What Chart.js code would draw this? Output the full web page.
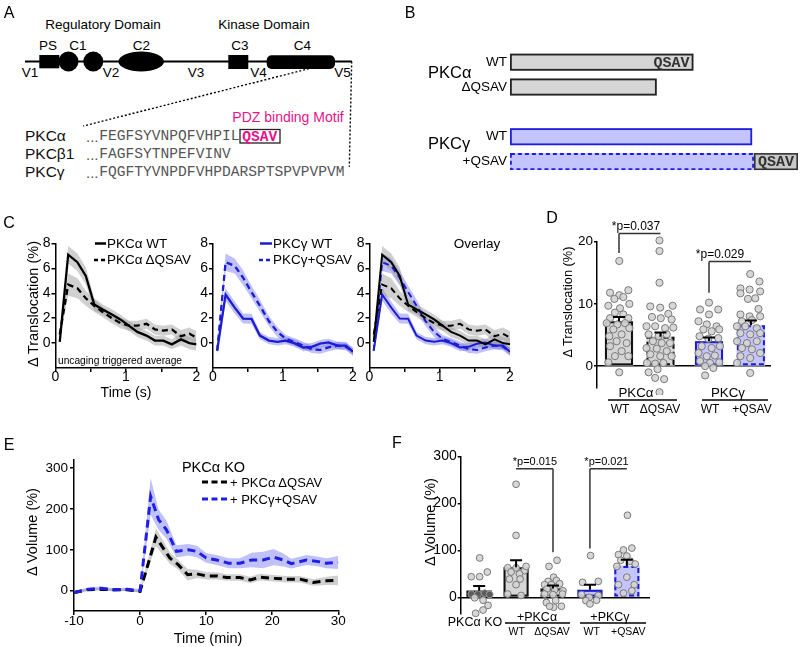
<!DOCTYPE html>
<html><head><meta charset="utf-8">
<script src="https://cdn.jsdelivr.net/npm/chart.js@4.4.0/dist/chart.umd.min.js"></script>
<style>
html,body{margin:0;padding:0;background:#fff;}
#fig{position:relative;width:800px;height:647px;overflow:hidden;font-family:"Liberation Sans",Arial,sans-serif;color:#000;}
canvas{position:absolute;}
.t{position:absolute;white-space:nowrap;line-height:1;}
#ov{position:absolute;left:0;top:0;pointer-events:none;}
</style></head><body><div id="fig">
<svg id="panelA" width="400" height="200" style="position:absolute;left:0;top:0" font-family="Liberation Sans, Arial, sans-serif">
  <g text-anchor="middle" dominant-baseline="central" font-size="13.5">
    <text x="103" y="24">Regulatory Domain</text>
    <text x="264" y="24">Kinase Domain</text>
    <text x="48" y="45">PS</text><text x="78" y="45">C1</text><text x="141.5" y="45">C2</text>
    <text x="240" y="45">C3</text><text x="302.5" y="45">C4</text>
    <text x="30" y="72">V1</text><text x="111" y="72">V2</text><text x="196" y="72">V3</text>
    <text x="258.5" y="72">V4</text><text x="342.5" y="72">V5</text>
  </g>
  <line x1="25" y1="61.5" x2="352" y2="61.5" stroke="#000" stroke-width="1.8"/>
  <rect x="39.3" y="55" width="20" height="13.3" fill="#000"/>
  <circle cx="68.5" cy="61.5" r="10" fill="#000"/>
  <circle cx="93.3" cy="61.5" r="10" fill="#000"/>
  <ellipse cx="141.2" cy="61.5" rx="22.8" ry="10" fill="#000"/>
  <rect x="228.3" y="55" width="20" height="14" fill="#000"/>
  <rect x="266.7" y="55.3" width="68.3" height="13.7" rx="5" fill="#000"/>
  <line x1="316.7" y1="66.7" x2="83.3" y2="126" stroke="#000" stroke-width="1.4" stroke-dasharray="2,2"/>
  <line x1="351.7" y1="61.5" x2="349.3" y2="166.7" stroke="#000" stroke-width="1.4" stroke-dasharray="2,2"/>
  <text x="288" y="117" text-anchor="middle" dominant-baseline="central" font-size="14" fill="#e8138c">PDZ binding Motif</text>
  <g font-size="15.5" font-weight="normal" fill="#111" dominant-baseline="central">
    <text x="25" y="135">PKCα</text><text x="25" y="153">PKCβ1</text><text x="25" y="171">PKCγ</text>
  </g>
  <g dominant-baseline="central" fill="#555">
    <text x="86" y="136" font-size="15">...</text>
    <text x="86" y="154" font-size="15">...</text>
    <text x="86" y="172" font-size="15">...</text>
    <text x="99.3" y="136" font-size="14.6" font-family="Liberation Mono, Courier New, monospace">FEGFSYVNPQFVHPIL</text>
    <text x="99.3" y="154" font-size="14.6" font-family="Liberation Mono, Courier New, monospace">FAGFSYTNPEFVINV</text>
    <text x="99.3" y="172" font-size="14.6" font-family="Liberation Mono, Courier New, monospace">FQGFTYVNPDFVHPDARSPTSPVPVPVM</text>
  </g>
  <rect x="240" y="129.5" width="40" height="13.5" fill="none" stroke="#222" stroke-width="1.3"/>
  <text x="242.3" y="136.5" dominant-baseline="central" font-size="14.6" font-weight="bold" fill="#e8138c" font-family="Liberation Mono, Courier New, monospace">QSAV</text>
</svg>
</div>
<script>
// ---------------- DATA ----------------
// Panel B (schematic lengths, arbitrary units)
const bRows = ['WT', 'ΔQSAV', '', 'WT', '+QSAV'];
const bProtein = [[0, 100], [0, 80], null, [0, 132], [0, 133]];
const bTag = [null, null, null, null, [133, 157]];

// Panel C (time in s, Δ translocation %)
const cTime = [0.06, 0.18, 0.31, 0.43, 0.55, 0.67, 0.80, 0.92, 1.04, 1.16, 1.29, 1.41, 1.53, 1.65, 1.78, 1.90, 2.00];
const cAlphaWT = [0.1, 7.1, 6.5, 5.4, 3.1, 2.7, 2.3, 1.9, 1.4, 0.9, 0.6, 0.2, 0.2, -0.1, 0.3, 0.0, -0.1];
const cAlphaWTsem = [0.3, 0.7, 0.7, 0.7, 0.5, 0.4, 0.4, 0.4, 0.4, 0.4, 0.4, 0.4, 0.4, 0.4, 0.5, 0.5, 0.5];
const cAlphaDQ = [0.7, 4.7, 4.4, 3.6, 3.0, 2.5, 2.0, 1.6, 1.4, 1.4, 1.55, 1.1, 1.0, 1.1, 0.55, 0.75, 0.45];
const cAlphaDQsem = [0.3, 0.9, 0.8, 0.6, 0.5, 0.4, 0.4, 0.4, 0.4, 0.4, 0.4, 0.4, 0.4, 0.4, 0.5, 0.5, 0.5];
const cGammaWT = [-0.6, 3.9, 2.85, 1.97, 1.95, 0.6, 0.2, 0.1, 0.2, 0.0, -0.35, -0.3, -0.05, 0.05, -0.2, -0.2, -0.7];
const cGammaWTsem = [0.3, 0.5, 0.5, 0.4, 0.4, 0.3, 0.3, 0.3, 0.3, 0.3, 0.3, 0.3, 0.3, 0.3, 0.3, 0.3, 0.3];
const cGammaQ = [-0.6, 6.5, 6.2, 5.25, 4.1, 3.0, 1.75, 0.9, 0.35, 0.1, -0.2, -0.5, -0.55, -0.35, -0.2, -0.3, -0.7];
const cGammaQsem = [0.3, 0.7, 0.6, 0.6, 0.5, 0.5, 0.4, 0.4, 0.3, 0.3, 0.3, 0.3, 0.3, 0.3, 0.3, 0.3, 0.3];
const cYTicks = [0, 2, 4, 6, 8];

// Panel D (Δ translocation %)
const dGroups = ['PKCα WT', 'PKCα ΔQSAV', 'PKCγ WT', 'PKCγ +QSAV'];
const dGroupX = [1, 2, 3.17, 4.18];
const dMean = [7.2, 4.7, 4.0, 6.55];
const dErrTop = [7.9, 5.4, 4.6, 7.35];
const dAlphaWTpts = [16.9, 11.8, 11.4, 12.2, 10.8, 11.1, 9.7, 9.3, 10.0, 8.6, 8.3, 7.7, 7.7, 6.9, 6.7, 6.9, 5.9, 6.1, 4.8, 5.1, 4.0, 3.7, 3.2, 2.4, 1.6, 1.6, 0.6, -1.0];
const dAlphaWTjit = [0.02, -0.64, 0.02, 0.67, -0.33, 0.31, -0.76, 0.07, 0.74, -0.29, 0.31, -0.64, 0.67, -0.88, -0.12, 0.43, -0.40, 0.74, -0.69, 0.19, -0.17, 0.55, -0.64, 0.19, -0.29, 0.67, -0.76, 0.02];
const dAlphaDQpts = [20.2, 18.5, 13.4, 9.6, 9.4, 9.7, 8.4, 7.9, 7.7, 7.5, 6.4, 6.4, 6.1, 6.2, 5.1, 4.8, 5.1, 4.0, 3.7, 3.7, 2.9, 2.8, 2.4, 1.9, 1.6, 1.6, 0.5, 0.4, 0.5, -0.5, -1.0, -1.9, -2.1, -4.2];
const dAlphaDQjit = [-0.07, -0.07, -0.07, -0.73, -0.02, 0.87, 0.56, -0.61, 0.02, 0.80, -1.0, -0.38, 0.33, 0.92, -0.85, -0.14, 0.45, -0.54, 0.09, 0.68, -1.0, -0.26, 0.45, -0.73, -0.02, 0.80, -0.96, -0.38, 0.21, -0.21, -0.85, -0.38, 0.26, -0.07];
const dGammaWTpts = [10.2, 9.1, 9.1, 8.3, 7.2, 6.7, 6.4, 5.9, 5.6, 5.9, 4.8, 4.4, 4.5, 3.2, 2.9, 3.2, 2.1, 1.6, 1.7, 0.8, 0.5, 0.6, 0.0, -0.3, -1.5];
const dGammaWTjit = [0, -0.64, 0.66, 0, -0.75, -0.16, 0.54, -0.40, 0.19, 0.73, -0.68, -0.05, 0.66, -0.52, 0.19, 0.78, -0.75, -0.16, 0.42, -0.64, 0.07, 0.73, -0.28, 0.31, -0.28];
const dGammaQpts = [14.8, 12.5, 12.3, 13.6, 11.7, 12.0, 10.8, 10.9, 9.2, 8.3, 8.0, 8.0, 7.2, 7.4, 6.4, 6.4, 6.1, 5.3, 5.1, 5.3, 4.0, 3.7, 4.0, 2.9, 2.7, 2.1, 1.6, 1.3, 0.5, -1.1];
const dGammaQjit = [-0.05, -0.75, -0.09, 0.61, -0.75, 0.66, -0.21, 0.31, 0.54, -0.75, -0.09, 0.66, -0.64, 0.07, -1.0, -0.40, 0.42, -0.75, -0.05, 0.66, -0.99, -0.28, 0.42, -0.64, 0.07, 0.66, -0.75, -0.05, -0.99, -0.05];
const dYTicks = [0, 10, 20];

// Panel E (time in min, Δ volume %)
const eAlphaDQt = [-10, -8, -6, -4, -2, 0, 2.4, 3.5, 4.5, 5.8, 7.2, 8.6, 10, 11.6, 13.1, 15.1, 16.7, 18.1, 20.2, 22.2, 24.2, 26.2, 28.2, 30];
const eAlphaDQ = [-5, 2, 3, 2, 2, -2, 131, 104, 80, 63, 39, 41, 36, 36, 32, 32, 26, 33, 30, 28, 28, 20, 24, 25];
const eAlphaDQsem = [4, 3, 3, 3, 3, 3, 22, 18, 14, 12, 14, 10, 9, 9, 8, 8, 8, 8, 8, 8, 8, 8, 10, 12];
const eGammaQt = [-10, -8, -6, -4, -2, 0, 1.6, 2.8, 4, 5.5, 7.3, 8.6, 10, 11.6, 13.4, 15.1, 16.9, 18.6, 20.2, 21.7, 22.9, 25.2, 27, 28.2, 30];
const eGammaQ = [-5, 3, 6, 2, 3, 0, 231, 174, 149, 96, 100, 96, 80, 75, 67, 67, 75, 75, 82, 75, 66, 75, 71, 67, 69];
const eGammaQsem = [4, 4, 4, 4, 4, 4, 45, 25, 22, 15, 14, 14, 12, 12, 12, 12, 18, 20, 20, 16, 12, 12, 12, 12, 16];
const eYTicks = [0, 100, 200, 300];

// Panel F (Δ volume %)
const fGroups = ['PKCα KO', '+PKCα WT', '+PKCα ΔQSAV', '+PKCγ WT', '+PKCγ +QSAV'];
const fGroupX = [1, 2, 3, 4, 5];
const fMean = [14, 64, 19, 16, 67];
const fErrTop = [24, 79, 25, 27, 80];
const fKOpts = [84, 44, 44, 54, 7, 7, 9, 6, -1, -6, -17, -27, -34];
const fKOjit = [0.04, -0.63, 0.04, 0.65, -0.63, -0.09, 0.44, 0.84, -0.36, 0.31, 0.71, 0.31, -0.28];
const fAlphaWTpts = [241, 132, 63, 63, 57, 66, 54, 50, 39, 39, 27, 7, 4];
const fAlphaWTjit = [0, 0, -0.67, 0, 0.67, 0.8, -0.4, 0.27, -0.53, 0.32, 0, -0.67, 0.4];
const fAlphaDQpts = [79, 66, 43, 34, 36, 27, 27, 29, 18, 16, 14, 7, 6, 7, -11, -7, -21, -19, -19];
const fAlphaDQjit = [0.32, -0.32, 0.05, -0.4, 0.27, -0.67, -0.13, 0.53, -0.48, 0.13, 0.8, -0.67, 0, 0.75, -0.53, 0.21, 0.05, 0.67, -0.27];
const fGammaWTpts = [89, 32, 34, 6, 0, 4, -7, -14, -6];
const fGammaWTjit = [0.05, -0.59, 0.67, -0.67, -0.05, 0.67, -0.32, 0, 0.53];
const fGammaQpts = [175, 101, 105, 91, 88, 79, 77, 71, 66, 43, 27, 27, 9, 14];
const fGammaQjit = [0.05, -0.27, 0.4, -0.67, 0, -0.48, 0.27, 0.67, -0.8, 0, -0.67, 0.59, -0.27, 0.4];
const fYTicks = [0, 100, 200, 300];

// ---------------- HELPERS ----------------
const FONT = '"Liberation Sans", Arial, Helvetica, sans-serif';
const MONO = '"Liberation Mono", "Courier New", monospace';
Chart.defaults.font.family = FONT;
const fig = document.getElementById('fig');
const BLACK = '#000';
const BLUE = '#1c1cd0';
const BLUE_E = '#1e1ee8';
const GRAYBAND = 'rgba(150,150,150,0.45)';
const BLUEBAND = 'rgba(100,100,240,0.40)';
const A_FILL = '#d6d6d6';
const G_FILL = '#c4c4ff';
const DOT_FILL = 'rgba(212,212,212,0.92)';
const DOT_EDGE = '#7a7a7a';
const DECOR = {};

const ovNS = 'http://www.w3.org/2000/svg';
const ov = document.createElementNS(ovNS, 'svg');
ov.setAttribute('id', 'ov'); ov.setAttribute('width', 800); ov.setAttribute('height', 647);

function T(text, x, y, size, o = {}) {
  const d = document.createElement('div');
  d.className = 't'; d.textContent = text;
  d.style.left = x + 'px'; d.style.top = y + 'px'; d.style.fontSize = size + 'px';
  if (o.color) d.style.color = o.color;
  const ax = o.anchor === 'left' ? '0' : (o.anchor === 'right' ? '-100%' : '-50%');
  d.style.transform = `translate(${ax},-50%)` + (o.rot ? ` rotate(${o.rot}deg)` : '');
  fig.appendChild(d);
}
function L(x1, y1, x2, y2, color, width, dash) {
  const l = document.createElementNS(ovNS, 'line');
  l.setAttribute('x1', x1); l.setAttribute('y1', y1); l.setAttribute('x2', x2); l.setAttribute('y2', y2);
  l.setAttribute('stroke', color); l.setAttribute('stroke-width', width);
  if (dash) l.setAttribute('stroke-dasharray', dash);
  ov.appendChild(l);
}

const AXB = { display: true, color: BLACK, width: 1.5 };
function GR(len) { return { display: true, drawOnChartArea: false, drawTicks: true, tickLength: len, color: BLACK, lineWidth: 1.5 }; }
function TK(size, pad, extra) { return Object.assign({ color: BLACK, font: { family: FONT, size: size, lineHeight: 1 }, padding: pad, autoSkip: false, maxRotation: 0 }, extra || {}); }
function fixed(arr) { return a => { a.ticks = arr.map(v => ({ value: v })); }; }

function makeChart(id, box, area, config, decorCfg) {
  const cv = document.createElement('canvas');
  cv.id = id; cv.width = box.w; cv.height = box.h;
  cv.style.left = box.x + 'px'; cv.style.top = box.y + 'px';
  cv.style.width = box.w + 'px'; cv.style.height = box.h + 'px';
  fig.appendChild(cv);
  if (decorCfg) { DECOR[id] = decorCfg; config.plugins = [decor]; }
  const o = config.options;
  o.responsive = false; o.animation = false; o.devicePixelRatio = 1; o.maintainAspectRatio = false;
  o.plugins = Object.assign({ legend: { display: false }, tooltip: { enabled: false } }, o.plugins || {});
  const xs = o.scales.x, ys = o.scales.y;
  const xBottom = xs.display !== false && typeof xs.position !== 'object';
  o.layout = { padding: { left: 0, top: area.t - box.y, right: box.x + box.w - area.r, bottom: xBottom ? 0 : box.y + box.h - area.b } };
  ys.afterFit = s => { s.width = area.l - box.x; };
  if (xBottom) xs.afterFit = s => { s.height = box.y + box.h - area.b; };
  return new Chart(cv, config);
}

// plugin: dashed bar borders, error bars, significance brackets, in-bar text
const decor = {
  id: 'decor',
  afterDatasetDraw(chart, args) {
    const o = DECOR[chart.canvas.id];
    if (!o) return;
    const ctx = chart.ctx;
    const st = o.borders && o.borders[args.index];
    if (st) {
      args.meta.data.forEach((el, i) => {
        const s = st[i]; if (!s) return;
        const p = el.getProps(['x', 'y', 'base', 'width', 'height', 'horizontal'], true);
        if (![p.x, p.y, p.base].every(Number.isFinite)) return;
        let l, r, t, b;
        if (p.horizontal) { l = Math.min(p.x, p.base); r = Math.max(p.x, p.base); t = p.y - p.height / 2; b = p.y + p.height / 2; }
        else { l = p.x - p.width / 2; r = p.x + p.width / 2; t = Math.min(p.y, p.base); b = Math.max(p.y, p.base); }
        if (r - l < 1 || b - t < 1) return;
        const w = s.width || 2, h = w / 2;
        ctx.save(); ctx.strokeStyle = s.color; ctx.lineWidth = w; ctx.setLineDash(s.dash || []);
        ctx.strokeRect(l + h, t + h, r - l - w, b - t - w);
        ctx.restore();
      });
    }
    if (o.barTexts) {
      o.barTexts.filter(bt => bt.ds === args.index).forEach(bt => {
        const el = args.meta.data[bt.i];
        const p = el.getProps(['x', 'y', 'base'], true);
        ctx.save(); ctx.fillStyle = '#333'; ctx.font = 'bold 15px ' + MONO; ctx.textBaseline = 'middle';
        if (bt.align === 'end') { ctx.textAlign = 'right'; ctx.fillText(bt.text, p.x - 4, p.y + 1); }
        else { ctx.textAlign = 'center'; ctx.fillText(bt.text, (p.x + p.base) / 2, p.y + 1); }
        ctx.restore();
      });
    }
  },
  afterDatasetsDraw(chart) {
    const o = DECOR[chart.canvas.id];
    if (!o) return;
    const ctx = chart.ctx; const xs = chart.scales.x, ys = chart.scales.y;
    if (o.err) {
      const meta = chart.getDatasetMeta(o.err.ds);
      ctx.save(); ctx.strokeStyle = o.err.color || BLACK; ctx.lineWidth = 2; ctx.setLineDash([]);
      meta.data.forEach((el, i) => {
        const x = el.x, y0 = el.y, y1 = ys.getPixelForValue(o.err.tops[i]);
        ctx.beginPath(); ctx.moveTo(x, y0); ctx.lineTo(x, y1);
        ctx.moveTo(x - o.err.cap, y1); ctx.lineTo(x + o.err.cap, y1); ctx.stroke();
      });
      ctx.restore();
    }
    if (o.brackets) {
      o.brackets.forEach(bk => {
        const x1 = xs.getPixelForValue(bk.x1), x2 = xs.getPixelForValue(bk.x2), y = ys.getPixelForValue(bk.y);
        ctx.save(); ctx.strokeStyle = '#333'; ctx.lineWidth = 1.5;
        ctx.beginPath(); ctx.moveTo(x1, y); ctx.lineTo(x2, y);
        if (bk.d1 != null) { ctx.moveTo(x1, y); ctx.lineTo(x1, ys.getPixelForValue(bk.d1)); }
        if (bk.d2 != null) { ctx.moveTo(x2, y); ctx.lineTo(x2, ys.getPixelForValue(bk.d2)); }
        ctx.stroke();
        ctx.fillStyle = '#000'; ctx.font = bk.size + 'px ' + FONT; ctx.textAlign = 'center'; ctx.textBaseline = 'middle';
        ctx.fillText(bk.text, xs.getPixelForValue(bk.tx), ys.getPixelForValue(bk.ty));
        ctx.restore();
      });
    }
  }
};

function lineSet(t, mean, color, dash, width) {
  return { type: 'line', data: t.map((x, i) => ({ x, y: mean[i] })), borderColor: color, borderWidth: width, borderDash: dash, pointRadius: 0, fill: false, tension: 0 };
}
function bandSets(t, mean, sem, color) {
  return [
    { type: 'line', data: t.map((x, i) => ({ x, y: mean[i] + sem[i] })), borderColor: 'rgba(0,0,0,0)', borderWidth: 0, pointRadius: 0, fill: false },
    { type: 'line', data: t.map((x, i) => ({ x, y: mean[i] - sem[i] })), borderColor: 'rgba(0,0,0,0)', borderWidth: 0, pointRadius: 0, fill: '-1', backgroundColor: color }
  ];
}
function dots(groupX, pts, jit, half) {
  return pts.map((v, i) => ({ x: groupX + jit[i] * half, y: v }));
}

// ---------------- PANEL B ----------------
makeChart('chartB', { x: 400, y: 40, w: 400, h: 145 }, { l: 510, t: 49, r: 798, b: 174 }, {
  type: 'bar',
  data: {
    labels: bRows,
    datasets: [
      { data: bProtein, backgroundColor: [A_FILL, A_FILL, 'rgba(0,0,0,0)', G_FILL, G_FILL], borderWidth: 0, inflateAmount: 0, grouped: false, maxBarThickness: 17, categoryPercentage: 1, barPercentage: 0.8 },
      { data: bTag, backgroundColor: ['rgba(0,0,0,0)', 'rgba(0,0,0,0)', 'rgba(0,0,0,0)', 'rgba(0,0,0,0)', '#c8c8c8'], borderWidth: 0, inflateAmount: 0, grouped: false, maxBarThickness: 17, categoryPercentage: 1, barPercentage: 0.8 }
    ]
  },
  options: {
    indexAxis: 'y',
    scales: {
      x: { type: 'linear', display: false, min: 0, max: 157 },
      y: { type: 'category', grid: { display: false, drawTicks: false }, border: { display: false }, ticks: TK(13.5, 3) }
    }
  }
}, {
  borders: {
    0: [{ color: '#222', width: 1.8 }, { color: '#222', width: 1.8 }, null, { color: '#1f1fdd', width: 1.8 }, { color: '#1f1fdd', width: 1.8, dash: [4, 3] }],
    1: [null, null, null, null, { color: '#333', width: 1.6 }]
  },
  barTexts: [{ ds: 0, i: 0, text: 'QSAV', align: 'end' }, { ds: 1, i: 4, text: 'QSAV', align: 'center' }]
});

// ---------------- PANEL C ----------------
function cChart(id, box, area, datasets) {
  return makeChart(id, box, area, {
    type: 'line',
    data: { datasets },
    options: {
      scales: {
        x: { type: 'linear', min: 0, max: 2, border: AXB, grid: GR(4), ticks: TK(14, -2, { stepSize: 0.5, callback: v => Number.isInteger(v) ? String(v) : '' }) },
        y: { type: 'linear', min: -2, max: 8, border: AXB, grid: GR(4), afterBuildTicks: fixed(cYTicks), ticks: TK(14, 1) }
      }
    }
  });
}
cChart('chartC1', { x: 0, y: 228, w: 206, h: 172 }, { l: 55.5, t: 243.5, r: 196.5, b: 368 }, [
  lineSet(cTime, cAlphaWT, BLACK, [], 2.3),
  lineSet(cTime, cAlphaDQ, BLACK, [6, 4], 2.3),
  ...bandSets(cTime, cAlphaWT, cAlphaWTsem, GRAYBAND),
  ...bandSets(cTime, cAlphaDQ, cAlphaDQsem, GRAYBAND)
]);
cChart('chartC2', { x: 198, y: 228, w: 165, h: 172 }, { l: 213, t: 243.5, r: 353, b: 368 }, [
  lineSet(cTime, cGammaWT, BLUE, [], 2.3),
  lineSet(cTime, cGammaQ, BLUE, [6, 4], 2.3),
  ...bandSets(cTime, cGammaWT, cGammaWTsem, BLUEBAND),
  ...bandSets(cTime, cGammaQ, cGammaQsem, BLUEBAND)
]);
cChart('chartC3', { x: 354, y: 228, w: 166, h: 172 }, { l: 369.5, t: 243.5, r: 510, b: 368 }, [
  lineSet(cTime, cAlphaWT, BLACK, [], 2),
  lineSet(cTime, cAlphaDQ, BLACK, [6, 4], 2),
  lineSet(cTime, cGammaWT, BLUE, [], 2),
  lineSet(cTime, cGammaQ, BLUE, [6, 4], 2),
  ...bandSets(cTime, cAlphaWT, cAlphaWTsem, GRAYBAND),
  ...bandSets(cTime, cAlphaDQ, cAlphaDQsem, GRAYBAND),
  ...bandSets(cTime, cGammaWT, cGammaWTsem, BLUEBAND),
  ...bandSets(cTime, cGammaQ, cGammaQsem, BLUEBAND)
]);

// ---------------- PANEL D ----------------
const dHalf = 0.337;
const dDots = [].concat(
  dots(dGroupX[0], dAlphaWTpts, dAlphaWTjit, dHalf),
  dots(dGroupX[1], dAlphaDQpts, dAlphaDQjit, dHalf),
  dots(dGroupX[2], dGammaWTpts, dGammaWTjit, dHalf),
  dots(dGroupX[3], dGammaQpts, dGammaQjit, dHalf)
);
makeChart('chartD', { x: 540, y: 212, w: 260, h: 183 }, { l: 597, t: 241.7, r: 770, b: 388 }, {
  type: 'bar',
  data: {
    datasets: [
      { type: 'scatter', data: dDots, pointRadius: 3.6, pointBorderWidth: 1, pointBackgroundColor: DOT_FILL, pointBorderColor: DOT_EDGE, clip: false },
      { type: 'bar', data: dGroupX.map((x, i) => ({ x, y: dMean[i] })), backgroundColor: [A_FILL, A_FILL, G_FILL, G_FILL], borderWidth: 0, barThickness: 28 }
    ]
  },
  options: {
    scales: {
      x: { type: 'linear', min: 0.47, max: 4.64, offset: false, position: { y: 0 }, border: AXB, grid: { display: false }, ticks: { display: false } },
      y: { type: 'linear', min: -3.4, max: 20, border: AXB, grid: GR(3), afterBuildTicks: fixed(dYTicks), ticks: TK(13.5, 1) }
    }
  }
}, {
  borders: { 1: [{ color: '#111', width: 2 }, { color: '#111', width: 2, dash: [5, 3] }, { color: '#1c1cd0', width: 2 }, { color: '#1c1cd0', width: 2, dash: [5, 3] }] },
  err: { ds: 1, tops: dErrTop, cap: 6 },
  brackets: [
    { x1: dGroupX[0], x2: dGroupX[1], y: 21.3, d1: 18.2, text: '*p=0.037', tx: 1.41, ty: 22.35, size: 12 },
    { x1: dGroupX[2], x2: dGroupX[3], y: 16.8, d1: 11.8, text: '*p=0.029', tx: 3.435, ty: 17.9, size: 12 }
  ]
});

// ---------------- PANEL E ----------------
makeChart('chartE', { x: 0, y: 440, w: 360, h: 207 }, { l: 74, t: 460, r: 338.3, b: 611 }, {
  type: 'line',
  data: {
    datasets: [
      lineSet(eGammaQt, eGammaQ, BLUE_E, [8, 5], 3),
      lineSet(eAlphaDQt, eAlphaDQ, BLACK, [8, 5], 3),
      ...bandSets(eAlphaDQt, eAlphaDQ, eAlphaDQsem, GRAYBAND),
      ...bandSets(eGammaQt, eGammaQ, eGammaQsem, BLUEBAND)
    ]
  },
  options: {
    scales: {
      x: { type: 'linear', min: -10, max: 30, border: AXB, grid: GR(4), ticks: TK(13.5, 0, { stepSize: 10 }) },
      y: { type: 'linear', min: -50, max: 320, border: AXB, grid: GR(4), afterBuildTicks: fixed(eYTicks), ticks: TK(13.5, 2) }
    }
  }
});

// ---------------- PANEL F ----------------
const fHalf = 0.339;
const fKOdots = dots(fGroupX[0], fKOpts, fKOjit, fHalf);
const fOtherDots = [].concat(
  dots(fGroupX[1], fAlphaWTpts, fAlphaWTjit, fHalf),
  dots(fGroupX[2], fAlphaDQpts, fAlphaDQjit, fHalf),
  dots(fGroupX[3], fGammaWTpts, fGammaWTjit, fHalf),
  dots(fGroupX[4], fGammaQpts, fGammaQjit, fHalf)
);
makeChart('chartF', { x: 380, y: 430, w: 420, h: 217 }, { l: 460.7, t: 456.6, r: 649, b: 613.3 }, {
  type: 'bar',
  data: {
    datasets: [
      { type: 'scatter', data: fOtherDots, pointRadius: 3.4, pointBorderWidth: 1, pointBackgroundColor: DOT_FILL, pointBorderColor: DOT_EDGE, clip: false },
      { type: 'scatter', data: fKOdots, pointRadius: 3.4, pointBorderWidth: 1,
        pointBackgroundColor: c => (c.raw && c.raw.y >= 0 && c.raw.y <= fMean[0]) ? '#5a5a5a' : DOT_FILL,
        pointBorderColor: c => (c.raw && c.raw.y >= 0 && c.raw.y <= fMean[0]) ? '#9a9a9a' : DOT_EDGE, clip: false },
      { type: 'bar', data: fGroupX.map((x, i) => ({ x, y: fMean[i] })), backgroundColor: ['#6e6e6e', A_FILL, A_FILL, G_FILL, G_FILL], borderWidth: 0, barThickness: 25 }
    ]
  },
  options: {
    scales: {
      x: { type: 'linear', min: 0.5, max: 5.6, offset: false, position: { y: 0 }, border: AXB, grid: { display: false }, ticks: { display: false } },
      y: { type: 'linear', min: -34, max: 300, border: AXB, grid: GR(3), afterBuildTicks: fixed(fYTicks), ticks: TK(14, 1) }
    }
  }
}, {
  borders: { 2: [{ color: '#111', width: 2 }, { color: '#111', width: 2 }, { color: '#111', width: 2, dash: [5, 3] }, { color: '#1c1cd0', width: 2 }, { color: '#1c1cd0', width: 2, dash: [5, 3] }] },
  err: { ds: 2, tops: fErrTop, cap: 6 },
  brackets: [
    { x1: fGroupX[1], x2: fGroupX[2], y: 274, d2: 96, text: '*p=0.015', tx: 2.51, ty: 289, size: 11 },
    { x1: fGroupX[3], x2: fGroupX[4], y: 274, d1: 104, text: '*p=0.021', tx: 4.45, ty: 289, size: 11 }
  ]
});

// ---------------- TEXT & LEGENDS ----------------
fig.appendChild(ov);
T('A', 9, 13, 16); T('B', 410, 13, 16); T('C', 9, 223, 16); T('D', 552, 218, 16); T('E', 9, 445, 16); T('F', 397, 443, 16);
// B labels
T('PKCα', 428, 72, 16.5, { anchor: 'left' }); T('PKCγ', 428, 143, 16.5, { anchor: 'left' });
// C
T('Δ Translocation (%)', 33, 304, 14.5, { rot: -90 });
T('Time (s)', 126, 392, 14);
T('uncaging triggered average', 58, 361, 10.2, { anchor: 'left' });
L(95, 243.5, 106, 243.5, BLACK, 2.5); T('PKCα WT', 107, 243.5, 13.5, { anchor: 'left' });
L(94, 260, 106, 260, BLACK, 2.5, '4,3'); T('PKCα ΔQSAV', 107, 260, 13.5, { anchor: 'left' });
L(260, 243.5, 272, 243.5, BLUE, 2.5); T('PKCγ WT', 273, 243.5, 13.5, { anchor: 'left' });
L(259, 260, 272, 260, BLUE, 2.5, '4,3'); T('PKCγ+QSAV', 273, 260, 13.5, { anchor: 'left' });
T('Overlay', 477, 243.5, 13.5);
// D
T('Δ Translocation (%)', 568, 302, 12.75, { rot: -90 });
T('PKCα', 636, 393, 13.3); T('PKCγ', 728, 393, 13.3);
L(608, 400, 677, 400, BLACK, 1.5); L(702, 400, 768, 400, BLACK, 1.5);
T('WT', 620, 408.5, 12); T('ΔQSAV', 660, 408.5, 12); T('WT', 710, 408.5, 12); T('+QSAV', 752, 408.5, 12);
// E
T('Δ Volume (%)', 32, 532, 14.5, { rot: -90 });
T('Time (min)', 208, 638, 14.5);
T('PKCα KO', 213.5, 467, 14.5);
L(202, 482, 227, 482, BLACK, 3, '6,3.5'); T('+ PKCα ΔQSAV', 230, 482, 13, { anchor: 'left' });
L(202, 499, 227, 499, BLUE_E, 3, '6,3.5'); T('+ PKCγ+QSAV', 230, 499, 13, { anchor: 'left' });
// F
T('Δ Volume (%)', 430, 522, 14.5, { rot: -90 });
T('PKCα KO', 475, 622, 12.5);
T('+PKCα', 537, 617, 12.5); L(505, 623, 570, 623, BLACK, 1.5);
T('WT', 516.7, 630.5, 10.5); T('ΔQSAV', 552, 630.5, 10.5);
T('+PKCγ', 610, 617, 12.5); L(580, 623, 646, 623, BLACK, 1.5);
T('WT', 591.7, 630.5, 10.5); T('+QSAV', 628.3, 630.5, 10.5);
</script>
</body></html>
